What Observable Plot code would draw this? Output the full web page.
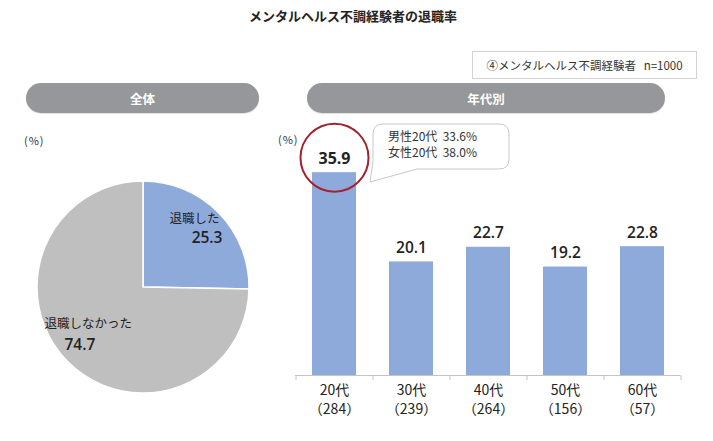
<!DOCTYPE html>
<html><head><meta charset="utf-8">
<script src="https://cdn.jsdelivr.net/npm/d3@7"></script>
<script src="https://cdn.jsdelivr.net/npm/@observablehq/plot@0.6"></script>
<style>
body{margin:0;background:#fff;}
#root{position:relative;width:713px;height:441px;overflow:hidden;font-family:"Noto Sans CJK JP","Noto Sans",sans-serif;color:#222;}
.abs{position:absolute;}
.pill{position:absolute;top:83px;height:30px;border-radius:15px;background:#96979a;color:#fff;font-weight:bold;font-size:12.5px;display:flex;align-items:center;justify-content:center;box-shadow:0 1px 1px rgba(0,0,0,0.12);}
.pct{position:absolute;font-size:11px;color:#333;letter-spacing:1px;}
</style></head><body><div id="root"></div>
<script>
// ---- data ----
const title = "メンタルヘルス不調経験者の退職率";
const sampleNote = "④メンタルヘルス不調経験者   n=1000";
const panelTitles = ["全体", "年代別"];
const pieCategories = ["退職した", "退職しなかった"];
const pieValues = [25.3, 74.7];
const ageGroups = ["20代", "30代", "40代", "50代", "60代"];
const ageN = [284, 239, 264, 156, 57];
const ageRates = [35.9, 20.1, 22.7, 19.2, 22.8];
const calloutLines = ["男性20代  33.6%", "女性20代  38.0%"];
const unitLabel = "(%)";

const numFont = "'Open Sans', 'Noto Sans', sans-serif";
const jpFont = "'Noto Sans CJK JP', sans-serif";
const root = document.getElementById("root");
function el(tag, cls, style, text) {
  const e = document.createElement(tag);
  if (cls) e.className = cls;
  Object.assign(e.style, style);
  if (text != null) e.textContent = text;
  root.appendChild(e);
  return e;
}

// title
el("div", "abs", {left:"0px", top:"6px", width:"706px", textAlign:"center", fontSize:"13px", fontWeight:"bold", lineHeight:"20px", color:"#222"}, title);
// sample box
el("div", "abs", {left:"472px", top:"51px", width:"223px", height:"26px", border:"1px solid #d3d3d3", fontSize:"11.5px", lineHeight:"26px", textAlign:"center", whiteSpace:"pre", color:"#333"}, sampleNote);
// pills
el("div", "pill", {left:"26px", width:"233px"}, panelTitles[0]);
el("div", "pill", {left:"307px", width:"358px"}, panelTitles[1]);
// unit labels
el("div", "pct", {left:"24px", top:"132px"}, unitLabel);
el("div", "pct", {left:"278px", top:"131px"}, unitLabel);

// ---- pie ----
const pieRows = pieCategories.map((c, i) => ({cat: c, value: pieValues[i]}));
const pieColors = ["#8eaadb", "#bfbfbf"];
const pie = Plot.plot({
  width: 290, height: 300,
  marginLeft: 37, marginRight: 41, marginTop: 61, marginBottom: 27,
  x: {domain: [-1, 1], axis: null},
  y: {domain: [-1, 1], axis: null},
  style: {background: "transparent", fontFamily: jpFont, color: "#222"},
  marks: [
    (index, scales, values, dims) => {
      const cx = scales.x(0), cy = scales.y(0);
      const r = Math.abs(scales.x(1) - scales.x(0));
      const arcs = d3.pie().sort(null).value(d => d.value)(pieRows);
      const arc = d3.arc().innerRadius(0).outerRadius(r);
      const g = d3.create("svg:g").attr("transform", `translate(${cx},${cy})`);
      g.selectAll("path").data(arcs).join("path")
        .attr("d", arc)
        .attr("fill", (d, i) => pieColors[i])
        .attr("stroke", "#fff")
        .attr("stroke-width", 1.5);
      return g.node();
    },
    Plot.text([pieRows[0]], {x: 0.245, y: 0.65, text: "cat", textAnchor: "start", fontSize: 12.5, fontFamily: jpFont, fill: "#222"}),
    Plot.text([pieRows[0]], {x: 0.745, y: 0.47, text: d => d.value.toFixed(1), textAnchor: "end", fontSize: 15.5, fontWeight: 600, fontFamily: numFont, fill: "#222"}),
    Plot.text([pieRows[1]], {x: -0.934, y: -0.34, text: "cat", textAnchor: "start", fontSize: 12.5, fontFamily: jpFont, fill: "#222"}),
    Plot.text([pieRows[1]], {x: -0.60, y: -0.54, text: d => d.value.toFixed(1), fontSize: 15.5, fontWeight: 600, fontFamily: numFont, fill: "#222"})
  ]
});
Object.assign(pie.style, {position: "absolute", left: "0px", top: "120px"});
root.appendChild(pie);

// ---- bars ----
const rows = ageGroups.map((a, i) => ({age: a, n: ageN[i], rate: ageRates[i]}));
const barW = 430, barML = 25, barMR = 20;
const step = (barW - barML - barMR) / ageGroups.length;
const bars = Plot.plot({
  width: barW, height: 315,
  marginLeft: barML, marginRight: barMR, marginTop: 34, marginBottom: 55,
  x: {domain: ageGroups, paddingInner: 0.43, paddingOuter: 0.215},
  y: {domain: [0, 40], axis: null},
  style: {background: "transparent", fontFamily: jpFont, color: "#222"},
  marks: [
    Plot.barY(rows, {x: "age", y: "rate", fill: "#8eaadb"}),
    Plot.ruleY([0], {stroke: "#c4c4c4"}),
    Plot.ruleX(rows, {x: "age", dx: -step / 2, y1: 0, y2: -0.9, stroke: "#c4c4c4"}),
    Plot.ruleX([rows[rows.length - 1]], {x: "age", dx: step / 2, y1: 0, y2: -0.9, stroke: "#c4c4c4"}),
    Plot.axisX({tickSize: 0, tickPadding: 7, fontSize: 14, lineHeight: 1.3, fontFamily: jpFont,
      tickFormat: d => `${d}\n（${ageN[ageGroups.indexOf(d)]}）`, label: null, fill: "#222"}),
    Plot.text([rows[0]], {x: "age", y: "rate", text: d => d.rate.toFixed(1), dy: -14, fontSize: 16, fontWeight: 700, fontFamily: numFont, fill: "#222"}),
    Plot.text(rows.slice(1), {x: "age", y: "rate", text: d => d.rate.toFixed(1), dy: -14, fontSize: 15.5, fontWeight: 600, fontFamily: numFont, fill: "#222"}),
    Plot.dot([rows[0]], {x: "age", y: "rate", r: 34, dy: -15, stroke: "#a3222f", strokeWidth: 2, fill: "none"})
  ]
});
Object.assign(bars.style, {position: "absolute", left: "270px", top: "115px"});
root.appendChild(bars);

// ---- callout ----
const svg = d3.create("svg").attr("width", 713).attr("height", 441)
  .style("position", "absolute").style("left", "0px").style("top", "0px").style("pointer-events", "none");
svg.append("path")
  .attr("d", "M383,124 H499 Q509,124 509,134 V159 Q509,169 499,169 H417 L370,182 L373,161 V134 Q373,124 383,124 Z")
  .attr("fill", "#fff").attr("stroke", "#c8c8c8").attr("stroke-width", 1);
calloutLines.forEach((line, i) => {
  svg.append("text").attr("x", 388).attr("y", 138 + i * 16).attr("dominant-baseline", "middle")
    .attr("font-size", 12).attr("font-family", jpFont).attr("fill", "#333").style("white-space", "pre")
    .text(line);
});
root.appendChild(svg.node());
</script>
</body></html>
